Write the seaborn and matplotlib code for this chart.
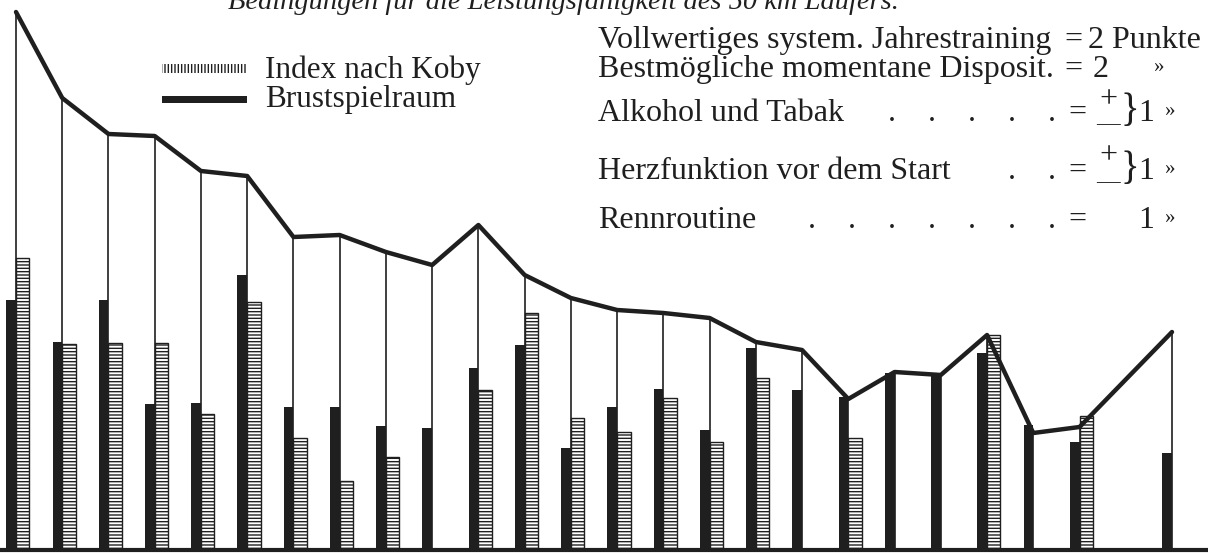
import numpy as np
import pandas as pd
import matplotlib.pyplot as plt
from matplotlib.patches import Rectangle
import seaborn as sns

# Läufer 1..26 (Platz 25 ohne Angaben)
laeufer = np.arange(26)
leistung = [538, 452, 416, 414, 379, 374, 313, 315, 298, 285, 325, 275, 252,
            240, 237, 232, 208, 200, 151, 178, 175, 215, 117, 123, np.nan, 218]
brustspielraum = [250, 208, 250, 146, 147, 275, 143, 143, 124, 122, 182, 205, 102,
                  143, 161, 120, 202, 160, 153, 177, 175, 197, 125, 108, np.nan, 97]
index_koby = [292, 206, 207, 207, 136, 248, 112, 69, 93, np.nan, 160, 237, 132,
              118, 152, 108, 172, np.nan, 112, np.nan, np.nan, 215, np.nan, 134, np.nan, np.nan]
reihen = ["Brustspielraum", "Index nach Koby"]

df = pd.DataFrame({"laeufer": laeufer, "leistung": leistung,
                   "Brustspielraum": brustspielraum, "Index nach Koby": index_koby})
df_bars = df.melt(id_vars="laeufer", value_vars=reihen, var_name="reihe", value_name="wert")

sns.set_style("white")
plt.rcParams["font.family"] = ["Liberation Serif", "DejaVu Serif"]
plt.rcParams["hatch.linewidth"] = 1.0

W, H = 1208, 553
fig = plt.figure(figsize=(W / 100, H / 100), dpi=100)
ax = fig.add_axes([0, 0, 1, 1])

ink = "#1f1f1f"
sns.barplot(data=df_bars, x="laeufer", y="wert", hue="reihe", hue_order=reihen,
            native_scale=True, dodge=True, width=0.46, palette=[ink, "white"],
            saturation=1, errorbar=None, legend=False, ax=ax)

# dunkle Säule links schmaler, gestreifte rechts breiter
for cont, name in zip(ax.containers, reihen):
    for bar in cont:
        if name == "Brustspielraum":
            right = bar.get_x() + bar.get_width()
            bar.set_width(0.21)
            bar.set_x(right - 0.21)
            bar.set_linewidth(0)
        else:
            bar.set_width(0.29)
            bar.set_facecolor("white")
            bar.set_edgecolor(ink)
            bar.set_hatch("-----")
            bar.set_linewidth(1.0)

ok = df.dropna(subset=["leistung"])
ax.vlines(ok["laeufer"], 0, ok["leistung"], color=ink, lw=1.2, zorder=3)
sns.lineplot(data=ok, x="laeufer", y="leistung", color=ink, lw=3.2, ax=ax, zorder=4)
ax.axhline(0, color=ink, lw=3, zorder=5)

unit = 46.24
ax.set_xlim(-16 / unit, 25 + (W - 1172) / unit)
ax.set_ylim(-3, 550)
ax.axis("off")


def fx(px):
    return px / W


def fy(py):
    return 1 - py / H


def txt(x, y, s, size=23, ha="left", va="baseline", **kw):
    fig.text(fx(x), fy(y), s, fontsize=size, ha=ha, va=va, color=ink, **kw)


# Titel (oben abgeschnitten)
txt(228, 9, "Bedingungen für die Leistungsfähigkeit des 50 km Läufers.", size=20.5, style="italic")

# Legende
fig.patches.append(Rectangle((fx(162), fy(73)), fx(85), 9 / H, transform=fig.transFigure,
                             facecolor="white", edgecolor=ink, linewidth=0, hatch="|||||"))
fig.patches.append(Rectangle((fx(162), fy(103)), fx(85), 7 / H, transform=fig.transFigure,
                             facecolor=ink, linewidth=0))
txt(265, 78, "Index nach Koby", size=22.5)
txt(265, 107, "Brustspielraum", size=22.5)

# Punkteschema
txt(598, 48, "Vollwertiges system. Jahrestraining")
txt(1073, 48, "=", ha="center")
txt(1088, 48, "2 Punkte")
txt(598, 77, "Bestmögliche momentane Disposit.")
txt(1073, 77, "=", ha="center")
txt(1093, 77, "2")
txt(1158, 72, "»", size=15, ha="center")

txt(598, 121, "Alkohol und Tabak")
txt(1056, 121, ".    .    .    .    .", ha="right")
txt(1077, 121, "=", ha="center")
txt(1108, 100, "+", ha="center", va="center")
txt(1108, 125, "—", size=17, ha="center", va="center")
txt(1130, 112, "}", size=28, ha="center", va="center")
txt(1146, 121, "1", ha="center")
txt(1169, 116, "»", size=15, ha="center")

txt(598, 179, "Herzfunktion vor dem Start")
txt(1056, 179, ".    .", ha="right")
txt(1077, 179, "=", ha="center")
txt(1108, 156, "+", ha="center", va="center")
txt(1108, 183, "—", size=17, ha="center", va="center")
txt(1130, 169, "}", size=28, ha="center", va="center")
txt(1146, 179, "1", ha="center")
txt(1169, 174, "»", size=15, ha="center")

txt(598, 228, "Rennroutine")
txt(1056, 228, ".    .    .    .    .    .    .", ha="right")
txt(1077, 228, "=", ha="center")
txt(1146, 228, "1", ha="center")
txt(1169, 223, "»", size=15, ha="center")

fig.savefig("out.png", dpi=100)
